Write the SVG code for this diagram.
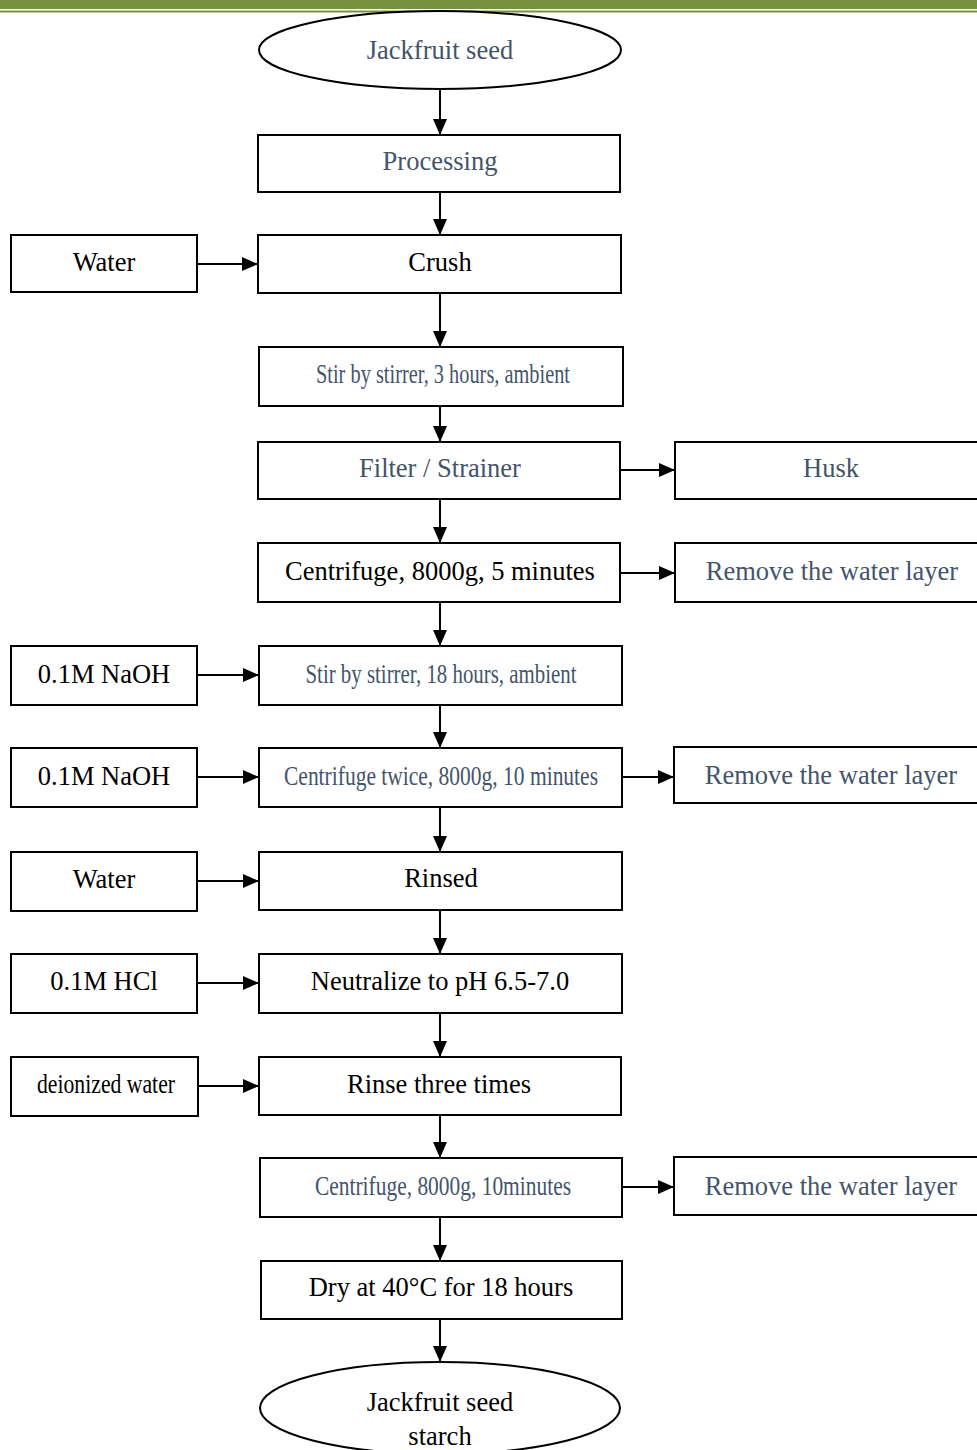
<svg xmlns="http://www.w3.org/2000/svg" width="977" height="1450" viewBox="0 0 977 1450">
<style>
.b{fill:#fff;stroke:#000;stroke-width:2}
.t{font-family:"Liberation Serif","Times New Roman",serif;font-size:26.5px;text-anchor:middle}
.g{fill:#44546A}
.k{fill:#000}
.c{stroke:#000;stroke-width:2;fill:none;marker-end:url(#ah)}
</style>
<defs>
<marker id="ah" markerUnits="userSpaceOnUse" markerWidth="16" markerHeight="14" refX="16" refY="7" orient="auto">
<path d="M0,0 L16,7 L0,14 Z" fill="#000"/>
</marker>
</defs>
<rect x="0" y="0" width="977" height="9" fill="#77923C"/>
<rect x="0" y="10.5" width="977" height="2" fill="#77923C"/>

<g id="connectors">
<line class="c" x1="440" y1="89" x2="440" y2="135"/>
<line class="c" x1="440" y1="192" x2="440" y2="235"/>
<line class="c" x1="197" y1="264" x2="258" y2="264"/>
<line class="c" x1="440" y1="293" x2="440" y2="347"/>
<line class="c" x1="440" y1="406" x2="440" y2="442"/>
<line class="c" x1="620" y1="470" x2="675" y2="470"/>
<line class="c" x1="440" y1="499" x2="440" y2="543"/>
<line class="c" x1="620" y1="573" x2="675" y2="573"/>
<line class="c" x1="440" y1="602" x2="440" y2="646"/>
<line class="c" x1="197" y1="675" x2="259" y2="675"/>
<line class="c" x1="440" y1="705" x2="440" y2="748"/>
<line class="c" x1="197" y1="777" x2="259" y2="777"/>
<line class="c" x1="622" y1="777" x2="674" y2="777"/>
<line class="c" x1="440" y1="807" x2="440" y2="852"/>
<line class="c" x1="197" y1="881" x2="259" y2="881"/>
<line class="c" x1="440" y1="910" x2="440" y2="954"/>
<line class="c" x1="197" y1="983" x2="259" y2="983"/>
<line class="c" x1="440" y1="1013" x2="440" y2="1057"/>
<line class="c" x1="198" y1="1086" x2="259" y2="1086"/>
<line class="c" x1="440" y1="1115" x2="440" y2="1158"/>
<line class="c" x1="622" y1="1187" x2="674" y2="1187"/>
<line class="c" x1="440" y1="1217" x2="440" y2="1261"/>
<line class="c" x1="440" y1="1319" x2="440" y2="1362"/>
</g>

<g id="n-seed"><ellipse class="b" cx="440" cy="50" rx="181" ry="39"/><text class="t g" x="440" y="59">Jackfruit seed</text></g>
<g id="n-processing"><rect class="b" x="258" y="135" width="362" height="57"/><text class="t g" x="440" y="170">Processing</text></g>
<g id="n-water1"><rect class="b" x="11" y="235" width="186" height="57"/><text class="t k" x="104" y="271">Water</text></g>
<g id="n-crush"><rect class="b" x="258" y="235" width="363" height="58"/><text class="t k" x="440" y="271">Crush</text></g>
<g id="n-stir3"><rect class="b" x="259" y="347" width="364" height="59"/><text class="t g" x="443" y="383" textLength="254" lengthAdjust="spacingAndGlyphs">Stir by stirrer, 3 hours, ambient</text></g>
<g id="n-filter"><rect class="b" x="258" y="442" width="362" height="57"/><text class="t g" x="440" y="477">Filter / Strainer</text></g>
<g id="n-husk"><rect class="b" x="675" y="442" width="305" height="57"/><text class="t g" x="831" y="477">Husk</text></g>
<g id="n-cent5"><rect class="b" x="258" y="543" width="362" height="59"/><text class="t k" x="440" y="580">Centrifuge, 8000g, 5 minutes</text></g>
<g id="n-remove1"><rect class="b" x="675" y="543" width="305" height="59"/><text class="t g" x="832" y="580">Remove the water layer</text></g>
<g id="n-naoh1"><rect class="b" x="11" y="646" width="186" height="59"/><text class="t k" x="104" y="683">0.1M NaOH</text></g>
<g id="n-stir18"><rect class="b" x="259" y="646" width="363" height="59"/><text class="t g" x="441" y="683" textLength="271" lengthAdjust="spacingAndGlyphs">Stir by stirrer, 18 hours, ambient</text></g>
<g id="n-naoh2"><rect class="b" x="11" y="748" width="186" height="59"/><text class="t k" x="104" y="785">0.1M NaOH</text></g>
<g id="n-cent2"><rect class="b" x="259" y="748" width="363" height="59"/><text class="t g" x="441" y="785" textLength="314" lengthAdjust="spacingAndGlyphs">Centrifuge twice, 8000g, 10 minutes</text></g>
<g id="n-remove2"><rect class="b" x="674" y="747" width="306" height="56"/><text class="t g" x="831" y="784">Remove the water layer</text></g>
<g id="n-water2"><rect class="b" x="11" y="852" width="186" height="59"/><text class="t k" x="104" y="888">Water</text></g>
<g id="n-rinsed"><rect class="b" x="259" y="852" width="363" height="58"/><text class="t k" x="441" y="887">Rinsed</text></g>
<g id="n-hcl"><rect class="b" x="11" y="954" width="186" height="59"/><text class="t k" x="104" y="990">0.1M HCl</text></g>
<g id="n-neutral"><rect class="b" x="259" y="954" width="363" height="59"/><text class="t k" x="440" y="990">Neutralize to pH 6.5-7.0</text></g>
<g id="n-deion"><rect class="b" x="11" y="1057" width="187" height="59"/><text class="t k" x="106" y="1093" textLength="138" lengthAdjust="spacingAndGlyphs">deionized water</text></g>
<g id="n-rinse3"><rect class="b" x="259" y="1057" width="362" height="58"/><text class="t k" x="439" y="1093">Rinse three times</text></g>
<g id="n-cent10"><rect class="b" x="260" y="1158" width="362" height="59"/><text class="t g" x="443" y="1195" textLength="256" lengthAdjust="spacingAndGlyphs">Centrifuge, 8000g, 10minutes</text></g>
<g id="n-remove3"><rect class="b" x="674" y="1157" width="306" height="58"/><text class="t g" x="831" y="1195">Remove the water layer</text></g>
<g id="n-dry"><rect class="b" x="261" y="1261" width="361" height="58"/><text class="t k" x="441" y="1296">Dry at 40°C for 18 hours</text></g>
<g id="n-starch"><ellipse class="b" cx="440" cy="1408" rx="180" ry="46"/><text class="t k" x="440" y="1411">Jackfruit seed</text><text class="t k" x="440" y="1445">starch</text></g>
</svg>
